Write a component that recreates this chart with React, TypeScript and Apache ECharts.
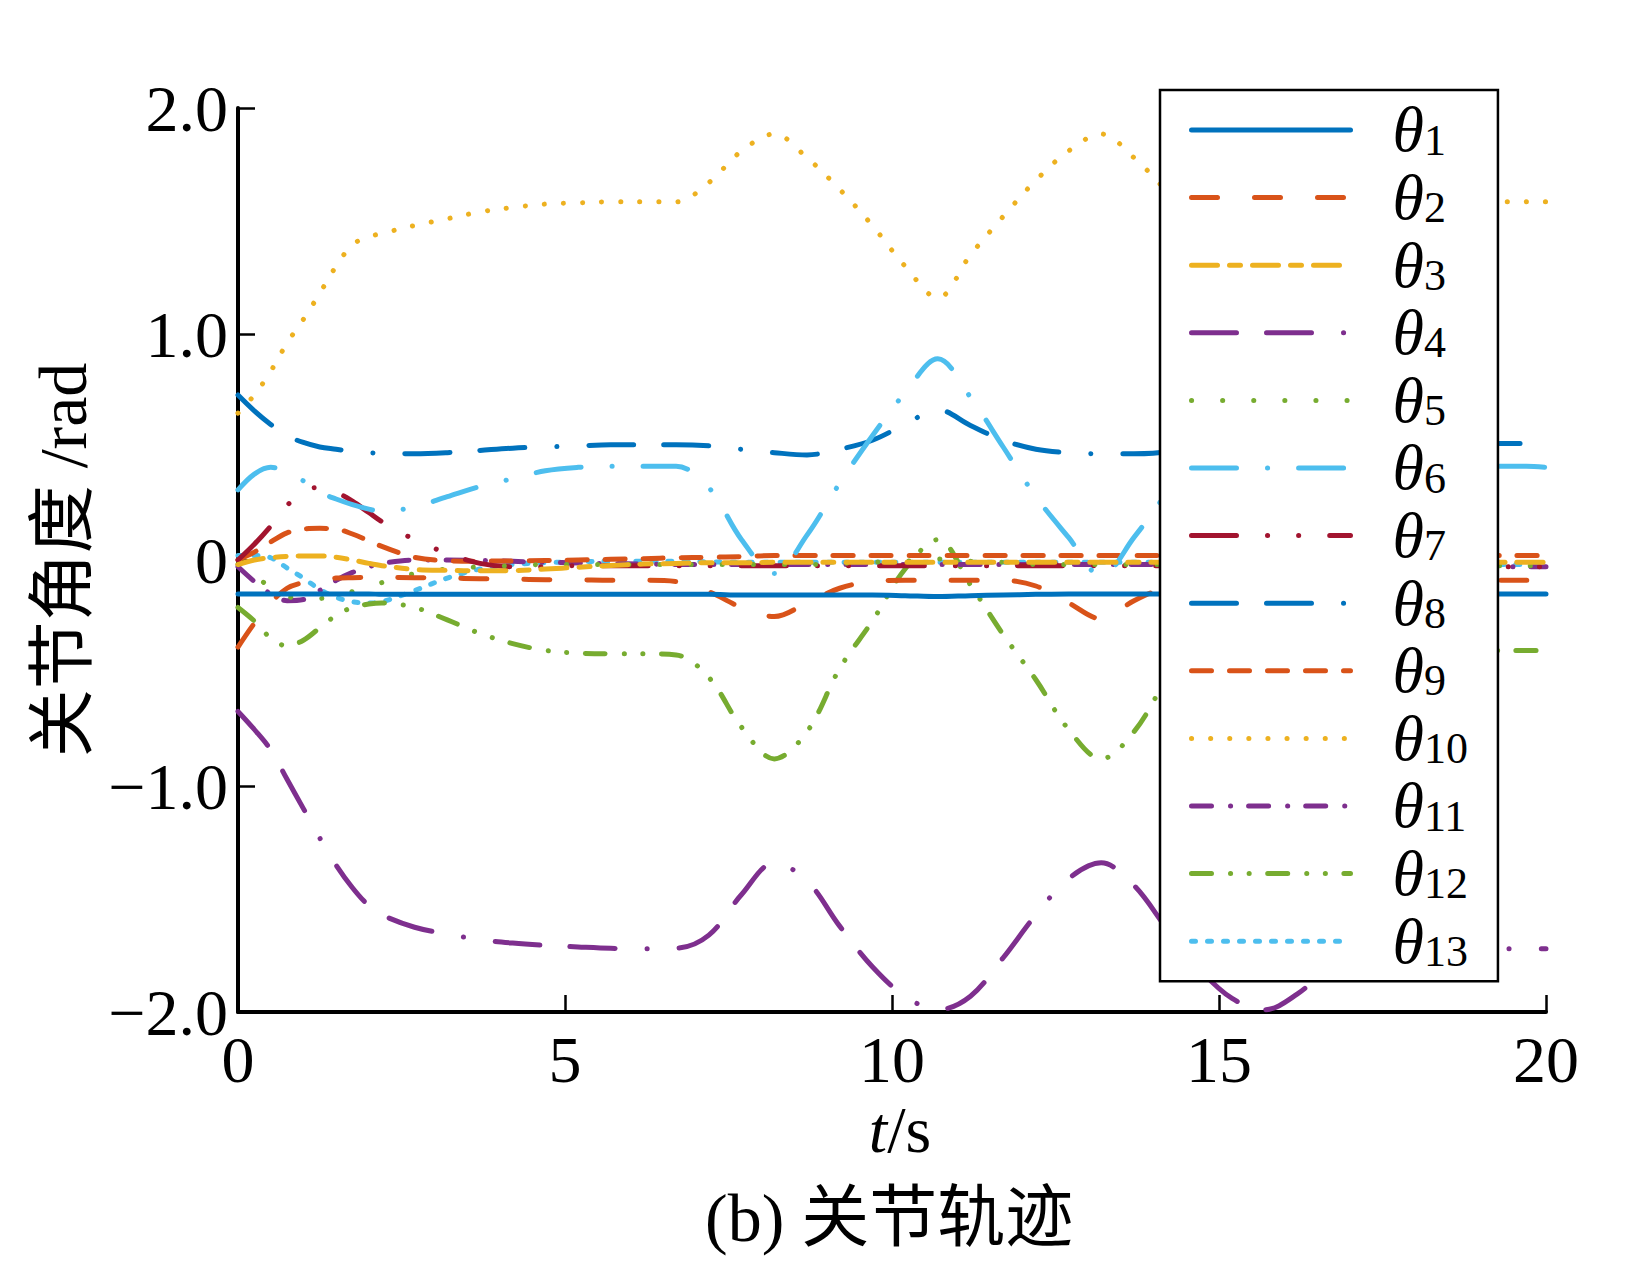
import React, { useEffect, useRef } from "react";
import * as echarts from "echarts";

// time grid (s)
const T = [0, 0.25, 0.5, 0.75, 1, 1.25, 1.5, 1.75, 2, 2.2, 2.7, 3.2, 3.7, 4.2, 4.7, 5.2, 5.7, 6.2, 6.7, 7.2, 7.7, 8.2, 8.7, 9.2, 9.7, 10.2, 10.7, 11.2, 11.7, 12.2, 12.7, 13.2, 13.7, 14.2, 14.7, 15.2, 15.7, 16.2, 16.7, 17.2, 17.7, 18.2, 18.7, 19.2, 19.7, 20];

// joint angles (rad), one value per time point
const theta1 = [-0.15, -0.15, -0.15, -0.15, -0.15, -0.15, -0.15, -0.15, -0.15, -0.152, -0.152, -0.152, -0.152, -0.152, -0.152, -0.152, -0.152, -0.152, -0.152, -0.152, -0.155, -0.155, -0.155, -0.155, -0.155, -0.158, -0.162, -0.158, -0.155, -0.152, -0.15, -0.15, -0.15, -0.15, -0.15, -0.15, -0.15, -0.15, -0.15, -0.15, -0.15, -0.15, -0.15, -0.15, -0.15, -0.15];
const theta2 = [-0.385, -0.28, -0.19, -0.125, -0.1, -0.087, -0.08, -0.078, -0.077, -0.077, -0.078, -0.08, -0.083, -0.085, -0.087, -0.088, -0.09, -0.09, -0.095, -0.14, -0.21, -0.25, -0.19, -0.125, -0.095, -0.09, -0.09, -0.09, -0.09, -0.115, -0.19, -0.26, -0.18, -0.12, -0.095, -0.09, -0.09, -0.09, -0.09, -0.09, -0.09, -0.09, -0.09, -0.09, -0.09, -0.09];
const theta3 = [-0.02, 0.0, 0.01, 0.016, 0.018, 0.018, 0.012, 0.0, -0.015, -0.025, -0.042, -0.046, -0.048, -0.047, -0.04, -0.032, -0.024, -0.018, -0.015, -0.012, -0.012, -0.01, -0.01, -0.01, -0.01, -0.01, -0.01, -0.01, -0.01, -0.01, -0.01, -0.01, -0.01, -0.01, -0.01, -0.01, -0.01, -0.01, -0.01, -0.01, -0.01, -0.01, -0.01, -0.01, -0.01, -0.01];
const theta4 = [-0.67, -0.75, -0.84, -0.97, -1.1, -1.23, -1.35, -1.45, -1.53, -1.57, -1.625, -1.655, -1.68, -1.695, -1.705, -1.712, -1.718, -1.72, -1.718, -1.66, -1.48, -1.34, -1.42, -1.62, -1.8, -1.93, -1.99, -1.93, -1.76, -1.57, -1.41, -1.34, -1.44, -1.63, -1.81, -1.94, -1.99, -1.92, -1.8, -1.73, -1.72, -1.72, -1.72, -1.72, -1.72, -1.72];
const theta5 = [-0.02, -0.07, -0.12, -0.16, -0.17, -0.17, -0.16, -0.14, -0.12, -0.1, -0.06, -0.04, -0.03, -0.025, -0.02, -0.02, -0.02, -0.02, -0.02, -0.02, -0.02, -0.02, -0.02, -0.015, -0.01, -0.005, 0.005, -0.005, -0.01, -0.02, -0.02, -0.02, -0.02, -0.02, -0.02, -0.02, -0.02, -0.02, -0.02, -0.025, -0.025, -0.025, -0.025, -0.025, -0.025, -0.025];
const theta6 = [0.31, 0.38, 0.41, 0.39, 0.35, 0.3, 0.27, 0.245, 0.225, 0.215, 0.235, 0.28, 0.325, 0.36, 0.395, 0.41, 0.415, 0.415, 0.415, 0.32, 0.09, -0.06, 0.11, 0.34, 0.55, 0.74, 0.89, 0.72, 0.5, 0.28, 0.1, -0.07, 0.1, 0.3, 0.55, 0.76, 0.88, 0.72, 0.52, 0.44, 0.42, 0.415, 0.415, 0.415, 0.415, 0.41];
const theta7 = [0.0, 0.07, 0.15, 0.24, 0.31, 0.32, 0.3, 0.26, 0.21, 0.17, 0.09, 0.03, -0.015, -0.03, -0.03, -0.025, -0.025, -0.025, -0.025, -0.025, -0.025, -0.025, -0.025, -0.025, -0.025, -0.025, -0.025, -0.025, -0.025, -0.025, -0.025, -0.025, -0.025, -0.025, -0.025, -0.025, -0.025, -0.025, -0.03, -0.03, -0.03, -0.03, -0.03, -0.03, -0.03, -0.03];
const theta8 = [0.73, 0.66, 0.6, 0.55, 0.52, 0.5, 0.49, 0.48, 0.475, 0.472, 0.47, 0.475, 0.485, 0.495, 0.5, 0.505, 0.51, 0.51, 0.51, 0.505, 0.49, 0.475, 0.465, 0.49, 0.53, 0.6, 0.665, 0.595, 0.53, 0.49, 0.475, 0.47, 0.47, 0.48, 0.54, 0.62, 0.665, 0.6, 0.54, 0.52, 0.515, 0.515, 0.515, 0.515, 0.515, 0.515];
const theta9 = [0.0, 0.035, 0.08, 0.12, 0.137, 0.14, 0.137, 0.115, 0.085, 0.06, 0.012, -0.003, -0.005, -0.004, -0.002, 0.0, 0.003, 0.006, 0.01, 0.012, 0.015, 0.02, 0.02, 0.02, 0.02, 0.02, 0.02, 0.02, 0.02, 0.02, 0.02, 0.02, 0.02, 0.02, 0.02, 0.02, 0.02, 0.02, 0.02, 0.02, 0.02, 0.02, 0.02, 0.02, 0.02, 0.02];
const theta10 = [0.65, 0.73, 0.835, 0.96, 1.065, 1.18, 1.3, 1.395, 1.43, 1.445, 1.48, 1.51, 1.54, 1.56, 1.575, 1.58, 1.585, 1.585, 1.585, 1.67, 1.81, 1.885, 1.78, 1.64, 1.48, 1.3, 1.16, 1.35, 1.52, 1.68, 1.81, 1.885, 1.78, 1.63, 1.45, 1.28, 1.16, 1.33, 1.5, 1.57, 1.585, 1.585, 1.585, 1.585, 1.585, 1.585];
const theta11 = [-0.03, -0.095, -0.15, -0.18, -0.175, -0.135, -0.09, -0.055, -0.03, -0.015, 0.0, 0.0, -0.002, -0.006, -0.01, -0.013, -0.016, -0.018, -0.02, -0.02, -0.02, -0.02, -0.02, -0.02, -0.02, -0.02, -0.02, -0.02, -0.02, -0.02, -0.02, -0.02, -0.02, -0.02, -0.02, -0.02, -0.02, -0.02, -0.025, -0.03, -0.03, -0.03, -0.03, -0.03, -0.03, -0.03];
const theta12 = [-0.21, -0.27, -0.345, -0.38, -0.355, -0.3, -0.245, -0.21, -0.195, -0.19, -0.21, -0.265, -0.325, -0.37, -0.4, -0.412, -0.415, -0.415, -0.42, -0.52, -0.74, -0.88, -0.76, -0.48, -0.27, -0.04, 0.09, -0.11, -0.33, -0.53, -0.75, -0.88, -0.76, -0.52, -0.27, -0.05, 0.08, -0.1, -0.3, -0.38, -0.4, -0.4, -0.4, -0.4, -0.4, -0.4];
const theta13 = [0.02, 0.02, 0.01, -0.035, -0.08, -0.13, -0.165, -0.185, -0.19, -0.185, -0.135, -0.08, -0.04, -0.02, -0.012, -0.008, -0.005, -0.005, -0.005, -0.008, -0.01, -0.01, -0.01, -0.01, -0.01, -0.01, -0.01, -0.01, -0.01, -0.01, -0.01, -0.01, -0.01, -0.01, -0.01, -0.01, -0.01, -0.01, -0.015, -0.02, -0.02, -0.02, -0.02, -0.02, -0.02, -0.02];

const SERIES_VALUES = [theta1, theta2, theta3, theta4, theta5, theta6, theta7, theta8, theta9, theta10, theta11, theta12, theta13];
const NAMES = SERIES_VALUES.map((_, i) => "θ" + (i + 1));
const X_TICKS = [0, 5, 10, 15, 20];
const Y_TICKS = [-2, -1, 0, 1, 2];

const COLORS = ["#0072BD", "#D95319", "#EDB120", "#7E2F8E", "#77AC30", "#4DBEEE", "#A2142F", "#0072BD", "#D95319", "#EDB120", "#7E2F8E", "#77AC30", "#4DBEEE"];
const DOT = 0.1;
// dash arrays (round caps add the line width to every dash)
const DASHES: (number[] | "solid")[] = [
  "solid",
  [26, 37],
  [26, 12, 11, 12],
  [45, 30, 45, 32, DOT, 32],
  [DOT, 31],
  [45, 31, DOT, 31],
  [45, 31, DOT, 31, DOT, 31],
  [45, 30, 45, 32, DOT, 32],
  [20, 18],
  [DOT, 19],
  [20, 19, DOT, 18],
  [20, 19, DOT, 18.5, DOT, 18.5],
  [4, 12],
];

const SERIF = "'Liberation Serif', 'Times New Roman', 'Noto Sans CJK SC', serif";
const CJK = "'Liberation Serif', 'Noto Sans CJK SC', serif";

export default function App() {
  const ref = useRef<HTMLDivElement>(null);
  useEffect(() => {
    if (!ref.current) return;
    const chart = echarts.init(ref.current, null, { renderer: "svg" });
    const LW = 5;
    const fmtY = (v: number) => (v === 0 ? "0" : (v < 0 ? "\u2212" : "") + Math.abs(v).toFixed(1));
    chart.setOption({
      animation: false,
      backgroundColor: "#fff",
      title: {
        text: "(b) 关节轨迹",
        left: 705,
        top: 1184,
        padding: 0,
        textStyle: { fontFamily: CJK, fontSize: 68, fontWeight: "normal", color: "#000" },
      },
      grid: { left: 238, top: 108, width: 1308, height: 904, containLabel: false },
      xAxis: {
        type: "value",
        min: X_TICKS[0],
        max: X_TICKS[X_TICKS.length - 1],
        interval: 5,
        name: "{i|t}{n|/s}",
        nameLocation: "middle",
        nameGap: 76,
        nameTextStyle: {
          rich: {
            i: { fontFamily: SERIF, fontStyle: "italic", fontSize: 66, color: "#000", padding: [0, 0, 0, 16] },
            n: { fontFamily: SERIF, fontSize: 66, color: "#000" },
          },
        },
        axisLine: { onZero: false, lineStyle: { color: "#000", width: 4 } },
        axisTick: { inside: true, length: 17, lineStyle: { color: "#000", width: 2.5 } },
        axisLabel: { fontFamily: SERIF, fontSize: 66, color: "#000", margin: 14 },
        splitLine: { show: false },
      },
      yAxis: {
        type: "value",
        min: Y_TICKS[0],
        max: Y_TICKS[Y_TICKS.length - 1],
        interval: 1,
        name: "关节角度 /rad",
        nameLocation: "middle",
        nameGap: 132,
        nameTextStyle: { fontFamily: CJK, fontSize: 68, color: "#000" },
        axisLine: { onZero: false, lineStyle: { color: "#000", width: 4 } },
        axisTick: { inside: true, length: 17, lineStyle: { color: "#000", width: 2.5 } },
        axisLabel: { fontFamily: SERIF, fontSize: 66, color: "#000", margin: 10, formatter: fmtY },
        splitLine: { show: false },
      },
      legend: {
        orient: "vertical",
        left: 1160,
        top: 90,
        padding: [8, 30, 8, 29],
        itemWidth: 159,
        itemHeight: 4,
        itemGap: 3.6,
        backgroundColor: "#fff",
        borderColor: "#000",
        borderWidth: 2.5,
        borderRadius: 0,
        selectedMode: false,
        itemStyle: { opacity: 0 },
        formatter: (name: string) => `{t|θ}{s|${name.slice(1)}}`,
        textStyle: {
          rich: {
            t: { fontFamily: SERIF, fontStyle: "italic", fontSize: 64, lineHeight: 64, color: "#000", padding: [0, 0, 0, 37] },
            s: { fontFamily: SERIF, fontSize: 44, lineHeight: 30, verticalAlign: "bottom", color: "#000" },
          },
        },
        data: NAMES.map((n, i) => ({
          name: n,
          itemStyle: { opacity: 0 },
          lineStyle: { color: COLORS[i], width: LW, type: DASHES[i], cap: "round" },
        })),
      },
      series: SERIES_VALUES.map((vals, i) => ({
        name: NAMES[i],
        type: "line",
        data: T.map((t, k) => [t, vals[k]]),
        symbol: "none",
        showSymbol: false,
        smooth: 0.35,
        color: COLORS[i],
        lineStyle: { color: COLORS[i], width: LW, type: DASHES[i], cap: "round", join: "round" },
        z: 2 + (13 - i) * 0.01,
      })),
    });
    return () => chart.dispose();
  }, []);
  return <div ref={ref} style={{ position: "absolute", left: 0, top: 0, width: 1629, height: 1279 }} />;
}
